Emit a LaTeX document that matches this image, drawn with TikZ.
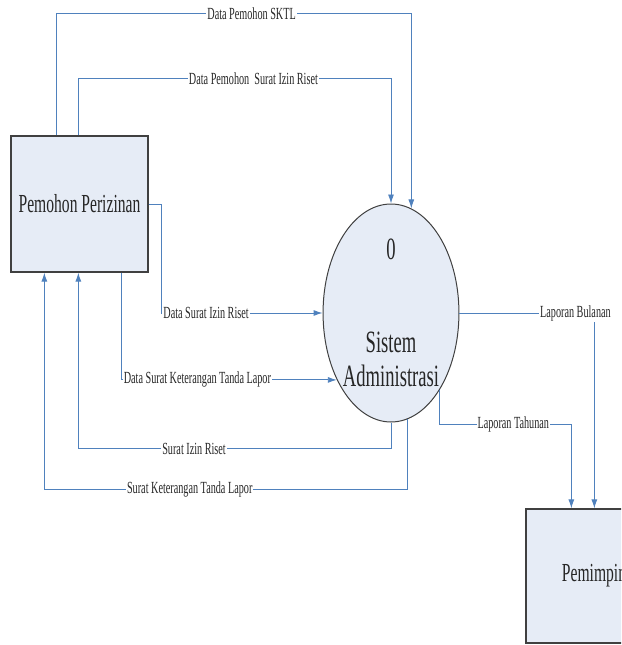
\documentclass[tikz,border=0pt]{standalone}
\usepackage{fontspec}
\setmainfont{Liberation Serif}
\newfontfamily\narrowserif[FakeStretch=0.6]{Liberation Serif}
\usetikzlibrary{arrows.meta,shapes.geometric}

\definecolor{flowblue}{RGB}{79,129,189}
\definecolor{boxfill}{RGB}{230,236,246}

\tikzset{
  entity/.style={draw=black!75, line width=1.3pt, fill=boxfill, inner sep=0pt,
    minimum width=137pt, minimum height=136pt, text=black!85,
    font=\narrowserif\fontsize{26}{30}\selectfont},
  process/.style={ellipse, draw=black!75, line width=1pt, fill=boxfill, inner sep=0pt,
    minimum width=120pt, minimum height=218pt, align=center, text=black!85,
    font=\narrowserif\fontsize{31}{34}\selectfont},
  flow/.style={draw=flowblue, line width=0.9pt, -{Latex[length=9pt,width=6pt]}},
  lbl/.style={fill=white, inner sep=1pt, text=black!85,
    font=\narrowserif\fontsize{17}{20}\selectfont}
}

\begin{document}
\begin{tikzpicture}[x=1pt,y=-1pt]

  % frame
  \useasboundingbox (0,0) rectangle (621,645);
  \clip (0,0) rectangle (621,645);

  % entities and process
  \node[entity] (pemohon) at (79.5,204) {Pemohon Perizinan};
  \node[process] (sistem) at (391,313) {0\\[59pt]Sistem\\Administrasi};
  \node[entity, minimum width=136pt, minimum height=134pt] (pimpinan) at (594,576) {Pemimpin};

  % flows into the process
  \draw[flow] ([xshift=46pt]pemohon.north west) -- ++(0,-122) -| (sistem.79)
    node[lbl,pos=0.275] {Data Pemohon SKTL};
  \draw[flow] ([xshift=68pt]pemohon.north west) -- ++(0,-57) -| (sistem.north)
    node[lbl,pos=0.28] {Data Pemohon~ Surat Izin Riset};
  \draw[flow] (pemohon.east) -- (161,204) |- (sistem.west)
    node[lbl,anchor=west,pos=0.5,xshift=1pt] {Data Surat Izin Riset};
  \draw[flow] ([xshift=111pt]pemohon.south west) |- (sistem.231)
    node[lbl,anchor=west,pos=0.5,xshift=1pt] {Data Surat Keterangan Tanda Lapor};

  % flows back to the applicant
  \draw[flow] (sistem.south) -- ++(0,26) -| ([xshift=68pt]pemohon.south west)
    node[lbl,pos=0.315] {Surat Izin Riset};
  \draw[flow] (sistem.279) -- (sistem.279 |- 0,489) -| ([xshift=34pt]pemohon.south west)
    node[lbl,pos=0.3] {Surat Keterangan Tanda Lapor};

  % reports
  \draw[flow] (sistem.east) -| ([xshift=69pt]pimpinan.north west)
    node[lbl,pos=0.43] {Laporan Bulanan};
  \draw[flow] (sistem.302) -- (sistem.302 |- 0,424) -| ([xshift=46pt]pimpinan.north west)
    node[lbl,pos=0.28] {Laporan Tahunan};
\end{tikzpicture}
\end{document}
